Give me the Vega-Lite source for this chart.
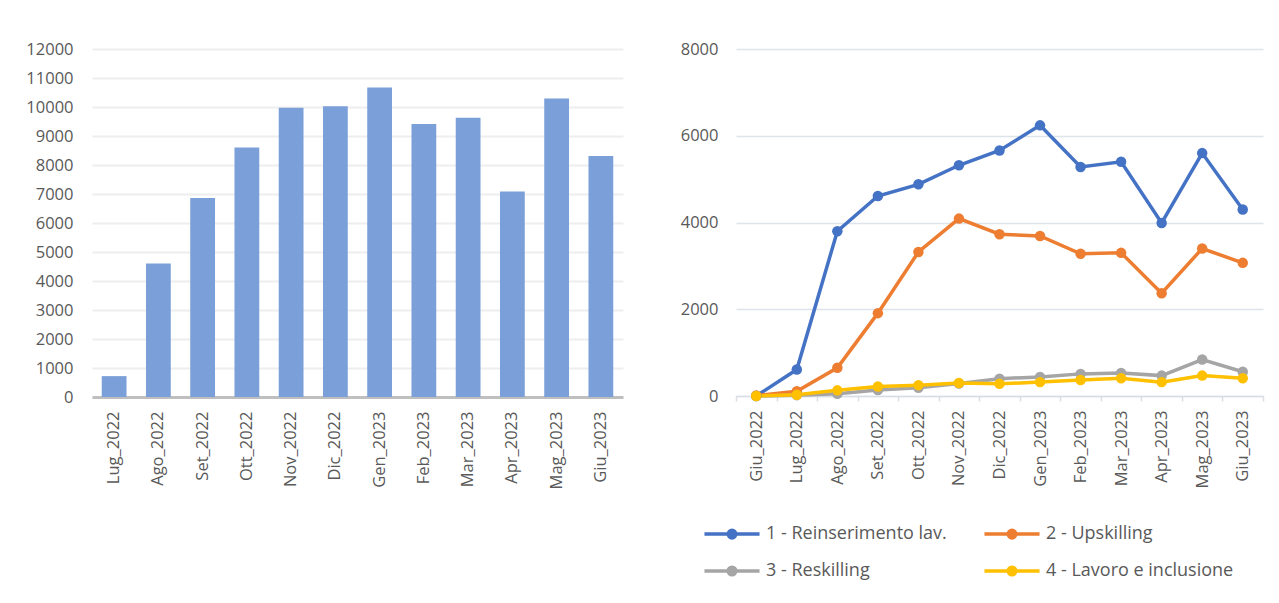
{
  "$schema": "https://vega.github.io/schema/vega-lite/v6.json",
  "background": "white",
  "padding": {"left": 25, "top": 41, "right": 5, "bottom": 5},
  "spacing": 57,
  "config": {
    "font": "Open Sans",
    "view": {"stroke": null},
    "axis": {"labelFont": "Open Sans", "labelColor": "#595959", "labelFontSize": 16.5, "title": null}
  },
  "datasets": {
    "bars": [
      {"mese": "Lug_2022", "valore": 720},
      {"mese": "Ago_2022", "valore": 4600},
      {"mese": "Set_2022", "valore": 6860},
      {"mese": "Ott_2022", "valore": 8600},
      {"mese": "Nov_2022", "valore": 9970},
      {"mese": "Dic_2022", "valore": 10030},
      {"mese": "Gen_2023", "valore": 10670},
      {"mese": "Feb_2023", "valore": 9410},
      {"mese": "Mar_2023", "valore": 9630},
      {"mese": "Apr_2023", "valore": 7090},
      {"mese": "Mag_2023", "valore": 10290},
      {"mese": "Giu_2023", "valore": 8310}
    ],
    "lines": [
      {"mese": "Giu_2022", "serie": "1 - Reinserimento lav.", "valore": 0},
      {"mese": "Lug_2022", "serie": "1 - Reinserimento lav.", "valore": 610},
      {"mese": "Ago_2022", "serie": "1 - Reinserimento lav.", "valore": 3800},
      {"mese": "Set_2022", "serie": "1 - Reinserimento lav.", "valore": 4610},
      {"mese": "Ott_2022", "serie": "1 - Reinserimento lav.", "valore": 4880},
      {"mese": "Nov_2022", "serie": "1 - Reinserimento lav.", "valore": 5320},
      {"mese": "Dic_2022", "serie": "1 - Reinserimento lav.", "valore": 5660},
      {"mese": "Gen_2023", "serie": "1 - Reinserimento lav.", "valore": 6240},
      {"mese": "Feb_2023", "serie": "1 - Reinserimento lav.", "valore": 5280},
      {"mese": "Mar_2023", "serie": "1 - Reinserimento lav.", "valore": 5400},
      {"mese": "Apr_2023", "serie": "1 - Reinserimento lav.", "valore": 3990},
      {"mese": "Mag_2023", "serie": "1 - Reinserimento lav.", "valore": 5600},
      {"mese": "Giu_2023", "serie": "1 - Reinserimento lav.", "valore": 4300},
      {"mese": "Giu_2022", "serie": "2 - Upskilling", "valore": 10},
      {"mese": "Lug_2022", "serie": "2 - Upskilling", "valore": 110},
      {"mese": "Ago_2022", "serie": "2 - Upskilling", "valore": 650},
      {"mese": "Set_2022", "serie": "2 - Upskilling", "valore": 1910},
      {"mese": "Ott_2022", "serie": "2 - Upskilling", "valore": 3320},
      {"mese": "Nov_2022", "serie": "2 - Upskilling", "valore": 4090},
      {"mese": "Dic_2022", "serie": "2 - Upskilling", "valore": 3730},
      {"mese": "Gen_2023", "serie": "2 - Upskilling", "valore": 3690},
      {"mese": "Feb_2023", "serie": "2 - Upskilling", "valore": 3280},
      {"mese": "Mar_2023", "serie": "2 - Upskilling", "valore": 3300},
      {"mese": "Apr_2023", "serie": "2 - Upskilling", "valore": 2370},
      {"mese": "Mag_2023", "serie": "2 - Upskilling", "valore": 3400},
      {"mese": "Giu_2023", "serie": "2 - Upskilling", "valore": 3070},
      {"mese": "Giu_2022", "serie": "3 - Reskilling", "valore": 0},
      {"mese": "Lug_2022", "serie": "3 - Reskilling", "valore": 20},
      {"mese": "Ago_2022", "serie": "3 - Reskilling", "valore": 50},
      {"mese": "Set_2022", "serie": "3 - Reskilling", "valore": 140},
      {"mese": "Ott_2022", "serie": "3 - Reskilling", "valore": 190},
      {"mese": "Nov_2022", "serie": "3 - Reskilling", "valore": 290},
      {"mese": "Dic_2022", "serie": "3 - Reskilling", "valore": 400},
      {"mese": "Gen_2023", "serie": "3 - Reskilling", "valore": 440},
      {"mese": "Feb_2023", "serie": "3 - Reskilling", "valore": 510},
      {"mese": "Mar_2023", "serie": "3 - Reskilling", "valore": 530},
      {"mese": "Apr_2023", "serie": "3 - Reskilling", "valore": 470},
      {"mese": "Mag_2023", "serie": "3 - Reskilling", "valore": 840},
      {"mese": "Giu_2023", "serie": "3 - Reskilling", "valore": 560},
      {"mese": "Giu_2022", "serie": "4 - Lavoro e inclusione", "valore": 0},
      {"mese": "Lug_2022", "serie": "4 - Lavoro e inclusione", "valore": 30},
      {"mese": "Ago_2022", "serie": "4 - Lavoro e inclusione", "valore": 130},
      {"mese": "Set_2022", "serie": "4 - Lavoro e inclusione", "valore": 220},
      {"mese": "Ott_2022", "serie": "4 - Lavoro e inclusione", "valore": 250},
      {"mese": "Nov_2022", "serie": "4 - Lavoro e inclusione", "valore": 300},
      {"mese": "Dic_2022", "serie": "4 - Lavoro e inclusione", "valore": 280},
      {"mese": "Gen_2023", "serie": "4 - Lavoro e inclusione", "valore": 320},
      {"mese": "Feb_2023", "serie": "4 - Lavoro e inclusione", "valore": 370},
      {"mese": "Mar_2023", "serie": "4 - Lavoro e inclusione", "valore": 410},
      {"mese": "Apr_2023", "serie": "4 - Lavoro e inclusione", "valore": 320},
      {"mese": "Mag_2023", "serie": "4 - Lavoro e inclusione", "valore": 470},
      {"mese": "Giu_2023", "serie": "4 - Lavoro e inclusione", "valore": 410}
    ]
  },
  "hconcat": [
    {
      "width": 531,
      "height": 348,
      "data": {"name": "bars"},
      "mark": {"type": "bar", "color": "#7A9FD9"},
      "encoding": {
        "x": {
          "field": "mese", "type": "nominal", "sort": null,
          "scale": {"paddingInner": 0.44, "paddingOuter": 0.22},
          "axis": {"labelAngle": -90, "ticks": false, "domainColor": "#BFBFBF", "domainWidth": 3, "labelPadding": 14, "title": null}
        },
        "y": {
          "field": "valore", "type": "quantitative",
          "scale": {"domain": [0, 12000]},
          "axis": {"values": [0,1000,2000,3000,4000,5000,6000,7000,8000,9000,10000,11000,12000], "format": "d", "domain": false, "ticks": false, "labelPadding": 19, "gridColor": "#EEEEEE", "gridWidth": 2, "title": null}
        }
      }
    },
    {
      "width": 527,
      "height": 347,
      "data": {"name": "lines"},
      "encoding": {
        "x": {
          "field": "mese", "type": "nominal", "sort": null,
          "scale": {"type": "band", "paddingInner": 0, "paddingOuter": 0},
          "axis": {"labelAngle": -90, "tickBand": "extent", "grid": false, "domainColor": "#D9DEE6", "domainWidth": 1.5, "tickColor": "#D9DEE6", "tickWidth": 1.5, "tickSize": 5, "labelPadding": 9, "title": null}
        },
        "y": {
          "field": "valore", "type": "quantitative",
          "scale": {"domain": [0, 8000]},
          "axis": {"values": [0,2000,4000,6000,8000], "format": "d", "domain": false, "ticks": false, "labelPadding": 18, "gridColor": "#DEE4EC", "gridWidth": 1.5, "title": null}
        },
        "color": {
          "field": "serie", "type": "nominal",
          "scale": {"domain": ["1 - Reinserimento lav.", "2 - Upskilling", "3 - Reskilling", "4 - Lavoro e inclusione"], "range": ["#4472C4", "#ED7D31", "#A5A5A5", "#FFC000"]},
          "legend": {
            "orient": "none", "legendX": 620, "legendY": 465, "direction": "horizontal", "columns": 2, "columnPadding": 30, "rowPadding": 6, "padding": 0,
            "symbolType": "M-1.53,0L1.53,0M-0.21,0A0.21,0.21,0,1,1,0.21,0A0.21,0.21,0,1,1,-0.21,0Z",
            "symbolSize": 1296, "symbolStrokeWidth": 3.5, "symbolOpacity": 1,
            "labelFont": "Open Sans", "labelFontSize": 18, "labelColor": "#595959", "labelOffset": 14, "labelLimit": 400, "title": null,
            "encode": {"symbols": {"update": {"fill": {"scale": "color", "field": "value"}, "stroke": {"scale": "color", "field": "value"}}}}
          }
        }
      },
      "layer": [
        {"mark": {"type": "line", "strokeWidth": 3.5}},
        {"mark": {"type": "point", "filled": true, "size": 110, "opacity": 1}}
      ]
    }
  ]
}
